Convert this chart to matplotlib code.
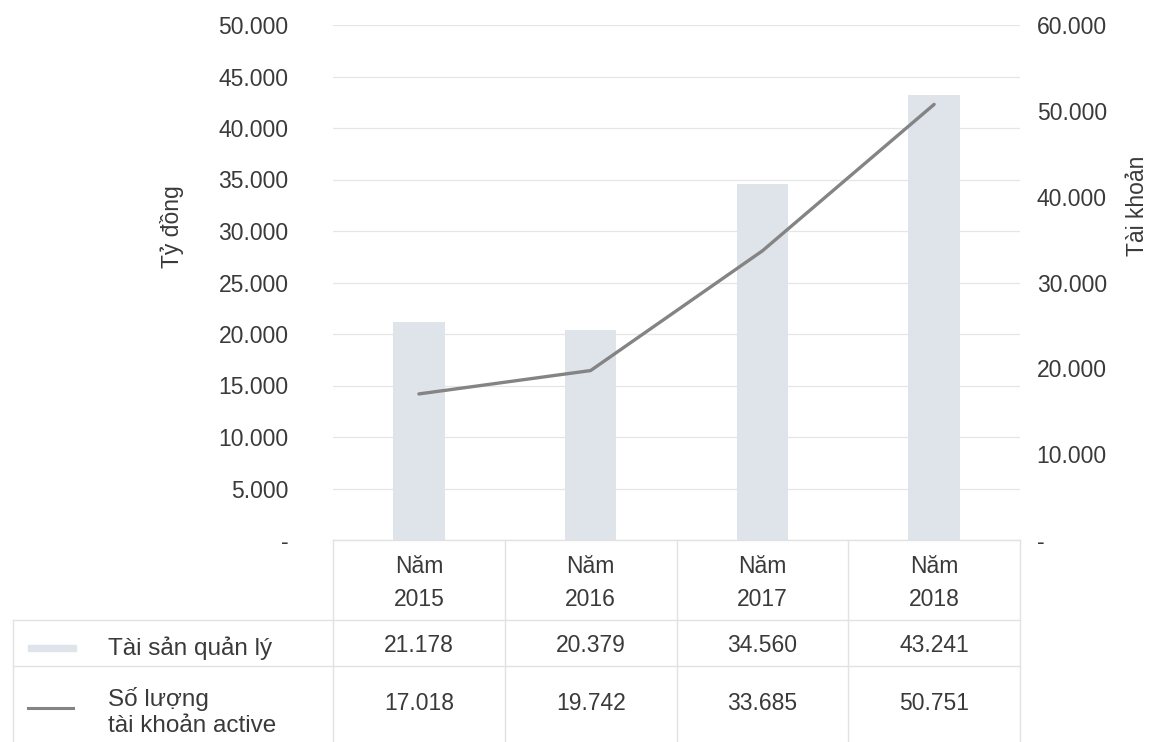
import numpy as np
import matplotlib
matplotlib.use('Agg')
import matplotlib.pyplot as plt
from matplotlib.ticker import FuncFormatter, MultipleLocator
import matplotlib.transforms as mtransforms

years = ['2015', '2016', '2017', '2018']
assets = [21178, 20379, 34560, 43241]        # Tỷ đồng
accounts = [17018, 19742, 33685, 50751]      # Tài khoản

row_labels = ['Tài sản quản lý', 'Số lượng\ntài khoản active']

W, H = 1153, 742
txt = '#3a3a3a'
bar_c = '#dfe3ea'
line_c = '#848484'
grid_c = '#e6e6e6'
fs = 16.5

plt.rcParams['font.family'] = ['Liberation Sans', 'DejaVu Sans']

def fy(px):
	return 1 - px/H

def fx(px):
	return px/W

def dotfmt(v, pos):
	if abs(v) < 1e-9:
		return '-'
	return f'{v:,.0f}'.replace(',', '.')

fig = plt.figure(figsize=(W/100, H/100), dpi=100)
ax = fig.add_axes([fx(333), fy(540), fx(1020-333), fy(25)-fy(540)])
ax2 = ax.twinx()

x = np.arange(len(years))
ax.bar(x, assets, width=0.3, color=bar_c, zorder=2)
ax2.plot(x, accounts, color=line_c, lw=2.4, solid_capstyle='round', zorder=3)

ax.set_xlim(-0.5, len(years)-0.5)
ax.set_ylim(0, 50000)
ax2.set_ylim(0, 60000)
ax.yaxis.set_major_locator(MultipleLocator(5000))
ax2.yaxis.set_major_locator(MultipleLocator(10000))
ax.yaxis.set_major_formatter(FuncFormatter(dotfmt))
ax2.yaxis.set_major_formatter(FuncFormatter(dotfmt))

ax.grid(axis='y', color=grid_c, lw=0.9, zorder=0)
ax.set_axisbelow(True)
ax.set_xticks([])
ax.tick_params(axis='y', length=0, pad=32, labelsize=fs, labelcolor=txt)
ax2.tick_params(axis='y', length=0, pad=12, labelsize=fs, labelcolor=txt)
for a in (ax, ax2):
	for s in a.spines.values():
		s.set_visible(False)

fig.text(fx(172), fy(227), 'Tỷ đồng', rotation=90, ha='center', va='center', fontsize=fs, color=txt)
fig.text(fx(1138), fy(206), 'Tài khoản', rotation=90, ha='center', va='center', fontsize=fs, color=txt)

# table under the chart, columns follow the category axis
tr = mtransforms.blended_transform_factory(ax.transData, fig.transFigure)
lc = '#e2e2e2'
fig.add_artist(plt.Line2D([fx(333), fx(1020)], [fy(540), fy(540)], color=lc, lw=1))
for yy in (620, 666):
	fig.add_artist(plt.Line2D([fx(13), fx(1020)], [fy(yy), fy(yy)], color=lc, lw=1))
fig.add_artist(plt.Line2D([fx(13), fx(13)], [fy(620), 0], color=lc, lw=1))
for b in np.arange(len(years)+1) - 0.5:
	fig.add_artist(plt.Line2D([b, b], [fy(540), 0], color=lc, lw=1, transform=tr))

for i, yr in enumerate(years):
	fig.text(i, fy(583), f'Năm\n{yr}', transform=tr, ha='center', va='center',
		fontsize=fs, color=txt, linespacing=1.6)
	fig.text(i, fy(645), dotfmt(assets[i], None), transform=tr, ha='center', va='center',
		fontsize=fs, color=txt)
	fig.text(i, fy(704), dotfmt(accounts[i], None), transform=tr, ha='center', va='center',
		fontsize=fs, color=txt)

# legend swatches
fig.add_artist(plt.Rectangle((fx(28), fy(651)), fx(48), fy(645)-fy(651), color=bar_c))
fig.add_artist(plt.Line2D([fx(28), fx(73)], [fy(708), fy(708)], color=line_c, lw=2.2))
fig.text(fx(108), fy(648), row_labels[0], ha='left', va='center', fontsize=fs+1, color=txt)
fig.text(fx(108), fy(712), row_labels[1], ha='left', va='center', fontsize=fs+1, color=txt,
	linespacing=1.2)

fig.savefig('out.png', dpi=100)
